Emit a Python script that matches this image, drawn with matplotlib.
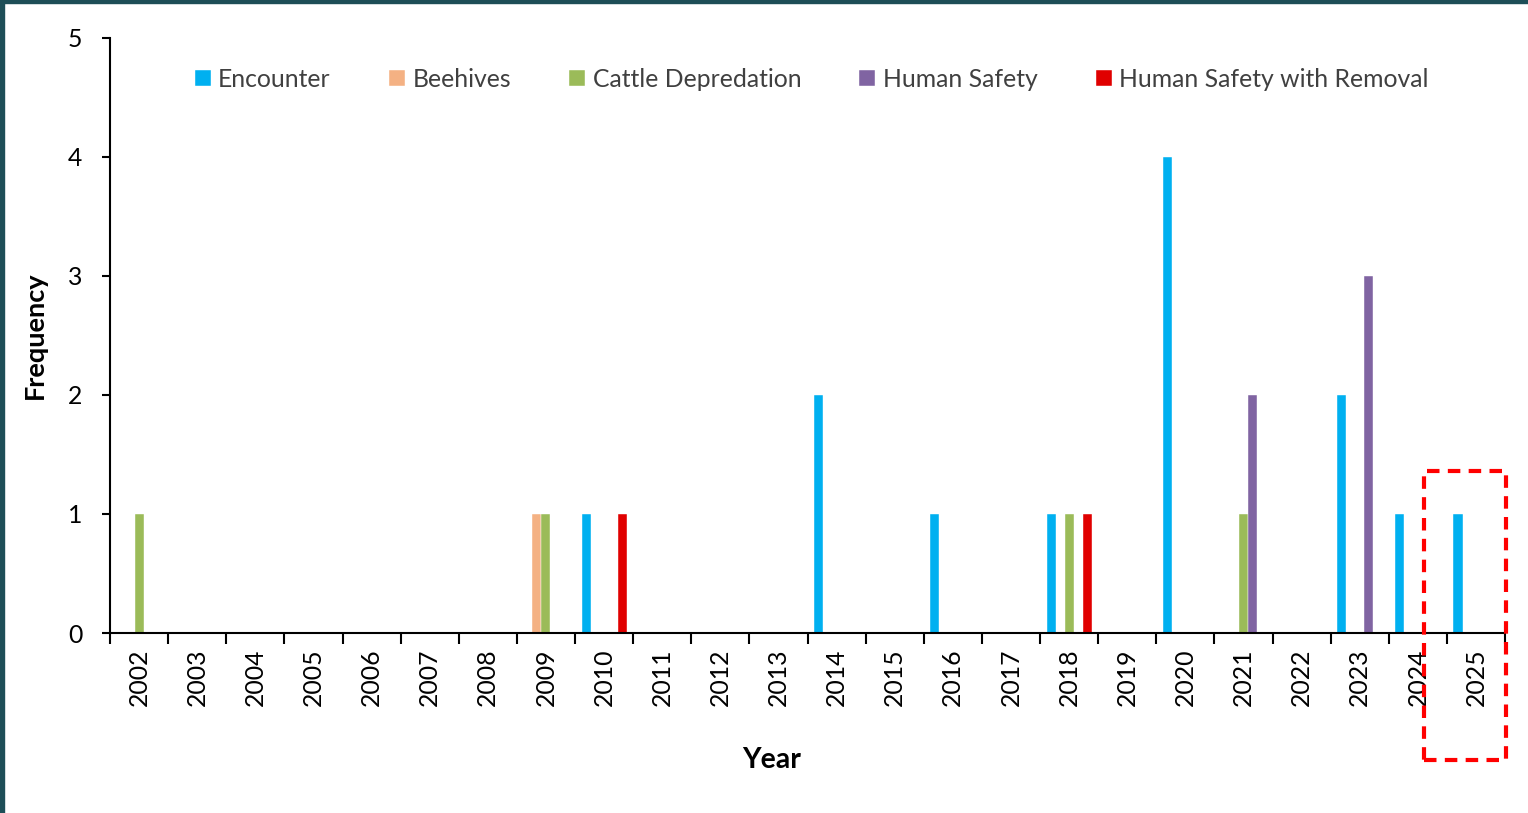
import matplotlib.pyplot as plt
import matplotlib.patches as mpatches
import numpy as np

plt.rcParams['font.family'] = ['Lato', 'DejaVu Sans']

years = ['2002', '2003', '2004', '2005', '2006', '2007', '2008', '2009', '2010',
         '2011', '2012', '2013', '2014', '2015', '2016', '2017', '2018', '2019',
         '2020', '2021', '2022', '2023', '2024', '2025']

series_names = ['Encounter', 'Beehives', 'Cattle Depredation', 'Human Safety',
                'Human Safety with Removal']
colors = ['#00b0f0', '#f4b183', '#9bbb59', '#8064a2', '#e00000']

encounter = [0, 0, 0, 0, 0, 0, 0, 0, 1, 0, 0, 0, 2, 0, 1, 0, 1, 0, 4, 0, 0, 2, 1, 1]
beehives = [0, 0, 0, 0, 0, 0, 0, 1, 0, 0, 0, 0, 0, 0, 0, 0, 0, 0, 0, 0, 0, 0, 0, 0]
cattle = [1, 0, 0, 0, 0, 0, 0, 1, 0, 0, 0, 0, 0, 0, 0, 0, 1, 0, 0, 1, 0, 0, 0, 0]
human_safety = [0, 0, 0, 0, 0, 0, 0, 0, 0, 0, 0, 0, 0, 0, 0, 0, 0, 0, 0, 2, 0, 3, 0, 0]
hs_removal = [0, 0, 0, 0, 0, 0, 0, 0, 1, 0, 0, 0, 0, 0, 0, 0, 1, 0, 0, 0, 0, 0, 0, 0]

data = [encounter, beehives, cattle, human_safety, hs_removal]

fig = plt.figure(figsize=(15.28, 8.13), dpi=100)
ax = fig.add_axes([0.072, 0.2214, 0.913, 0.7319])

x = np.arange(len(years))
w = 0.155
for i, (vals, c, name) in enumerate(zip(data, colors, series_names)):
    ax.bar(x + (i - 2) * w, vals, width=w, color=c, label=name,
           edgecolor='#ffffff', linewidth=0.3)

ax.set_xlim(-0.5, len(years) - 0.5)
ax.set_ylim(0, 5)
ax.set_yticks(range(6))
ax.set_xticks(x)
ax.set_xticklabels(years, rotation=90, fontsize=17.8)
ax.tick_params(axis='x', length=0, pad=11)
ax.set_xticks(np.arange(-0.5, len(years)), minor=True)
ax.tick_params(axis='x', which='minor', length=8, width=1.5, direction='out')
ax.tick_params(axis='y', labelsize=17.8, length=6, width=1.5, pad=14)

for s in ['top', 'right']:
    ax.spines[s].set_visible(False)
for s in ['left', 'bottom']:
    ax.spines[s].set_linewidth(1.5)

ax.set_ylabel('Frequency', fontsize=19.5, fontweight='bold')
ax.yaxis.set_label_coords(-0.0538, 0.5)
ax.set_xlabel('Year', fontsize=20.5, fontweight='bold')
ax.xaxis.set_label_coords(0.474, -0.2134)
ax.xaxis.label.set_va('center')
ax.yaxis.label.set_va('center')

ax.legend(loc='center', bbox_to_anchor=(0.503, 0.931), ncol=5, frameon=False,
          fontsize=17.8, handlelength=0.65, handleheight=0.65, handletextpad=0.3,
          columnspacing=2.35, labelcolor='#404040')

# dashed highlight box around 2025
fig.patches.append(mpatches.Rectangle((1424 / 1528, 1 - 760 / 813), 82 / 1528, 289 / 813,
                                      transform=fig.transFigure, fill=False,
                                      edgecolor='#ff0000', linewidth=3,
                                      linestyle=(0, (3, 2))))

# dark frame on top and left
fig.patches.append(mpatches.Rectangle((0, 0), 4 / 1528, 1, transform=fig.transFigure,
                                      color='#1d4e57'))
fig.patches.append(mpatches.Rectangle((0, 1 - 3 / 813), 1, 3 / 813, transform=fig.transFigure,
                                      color='#1d4e57'))

fig.savefig('out.png', dpi=100)
